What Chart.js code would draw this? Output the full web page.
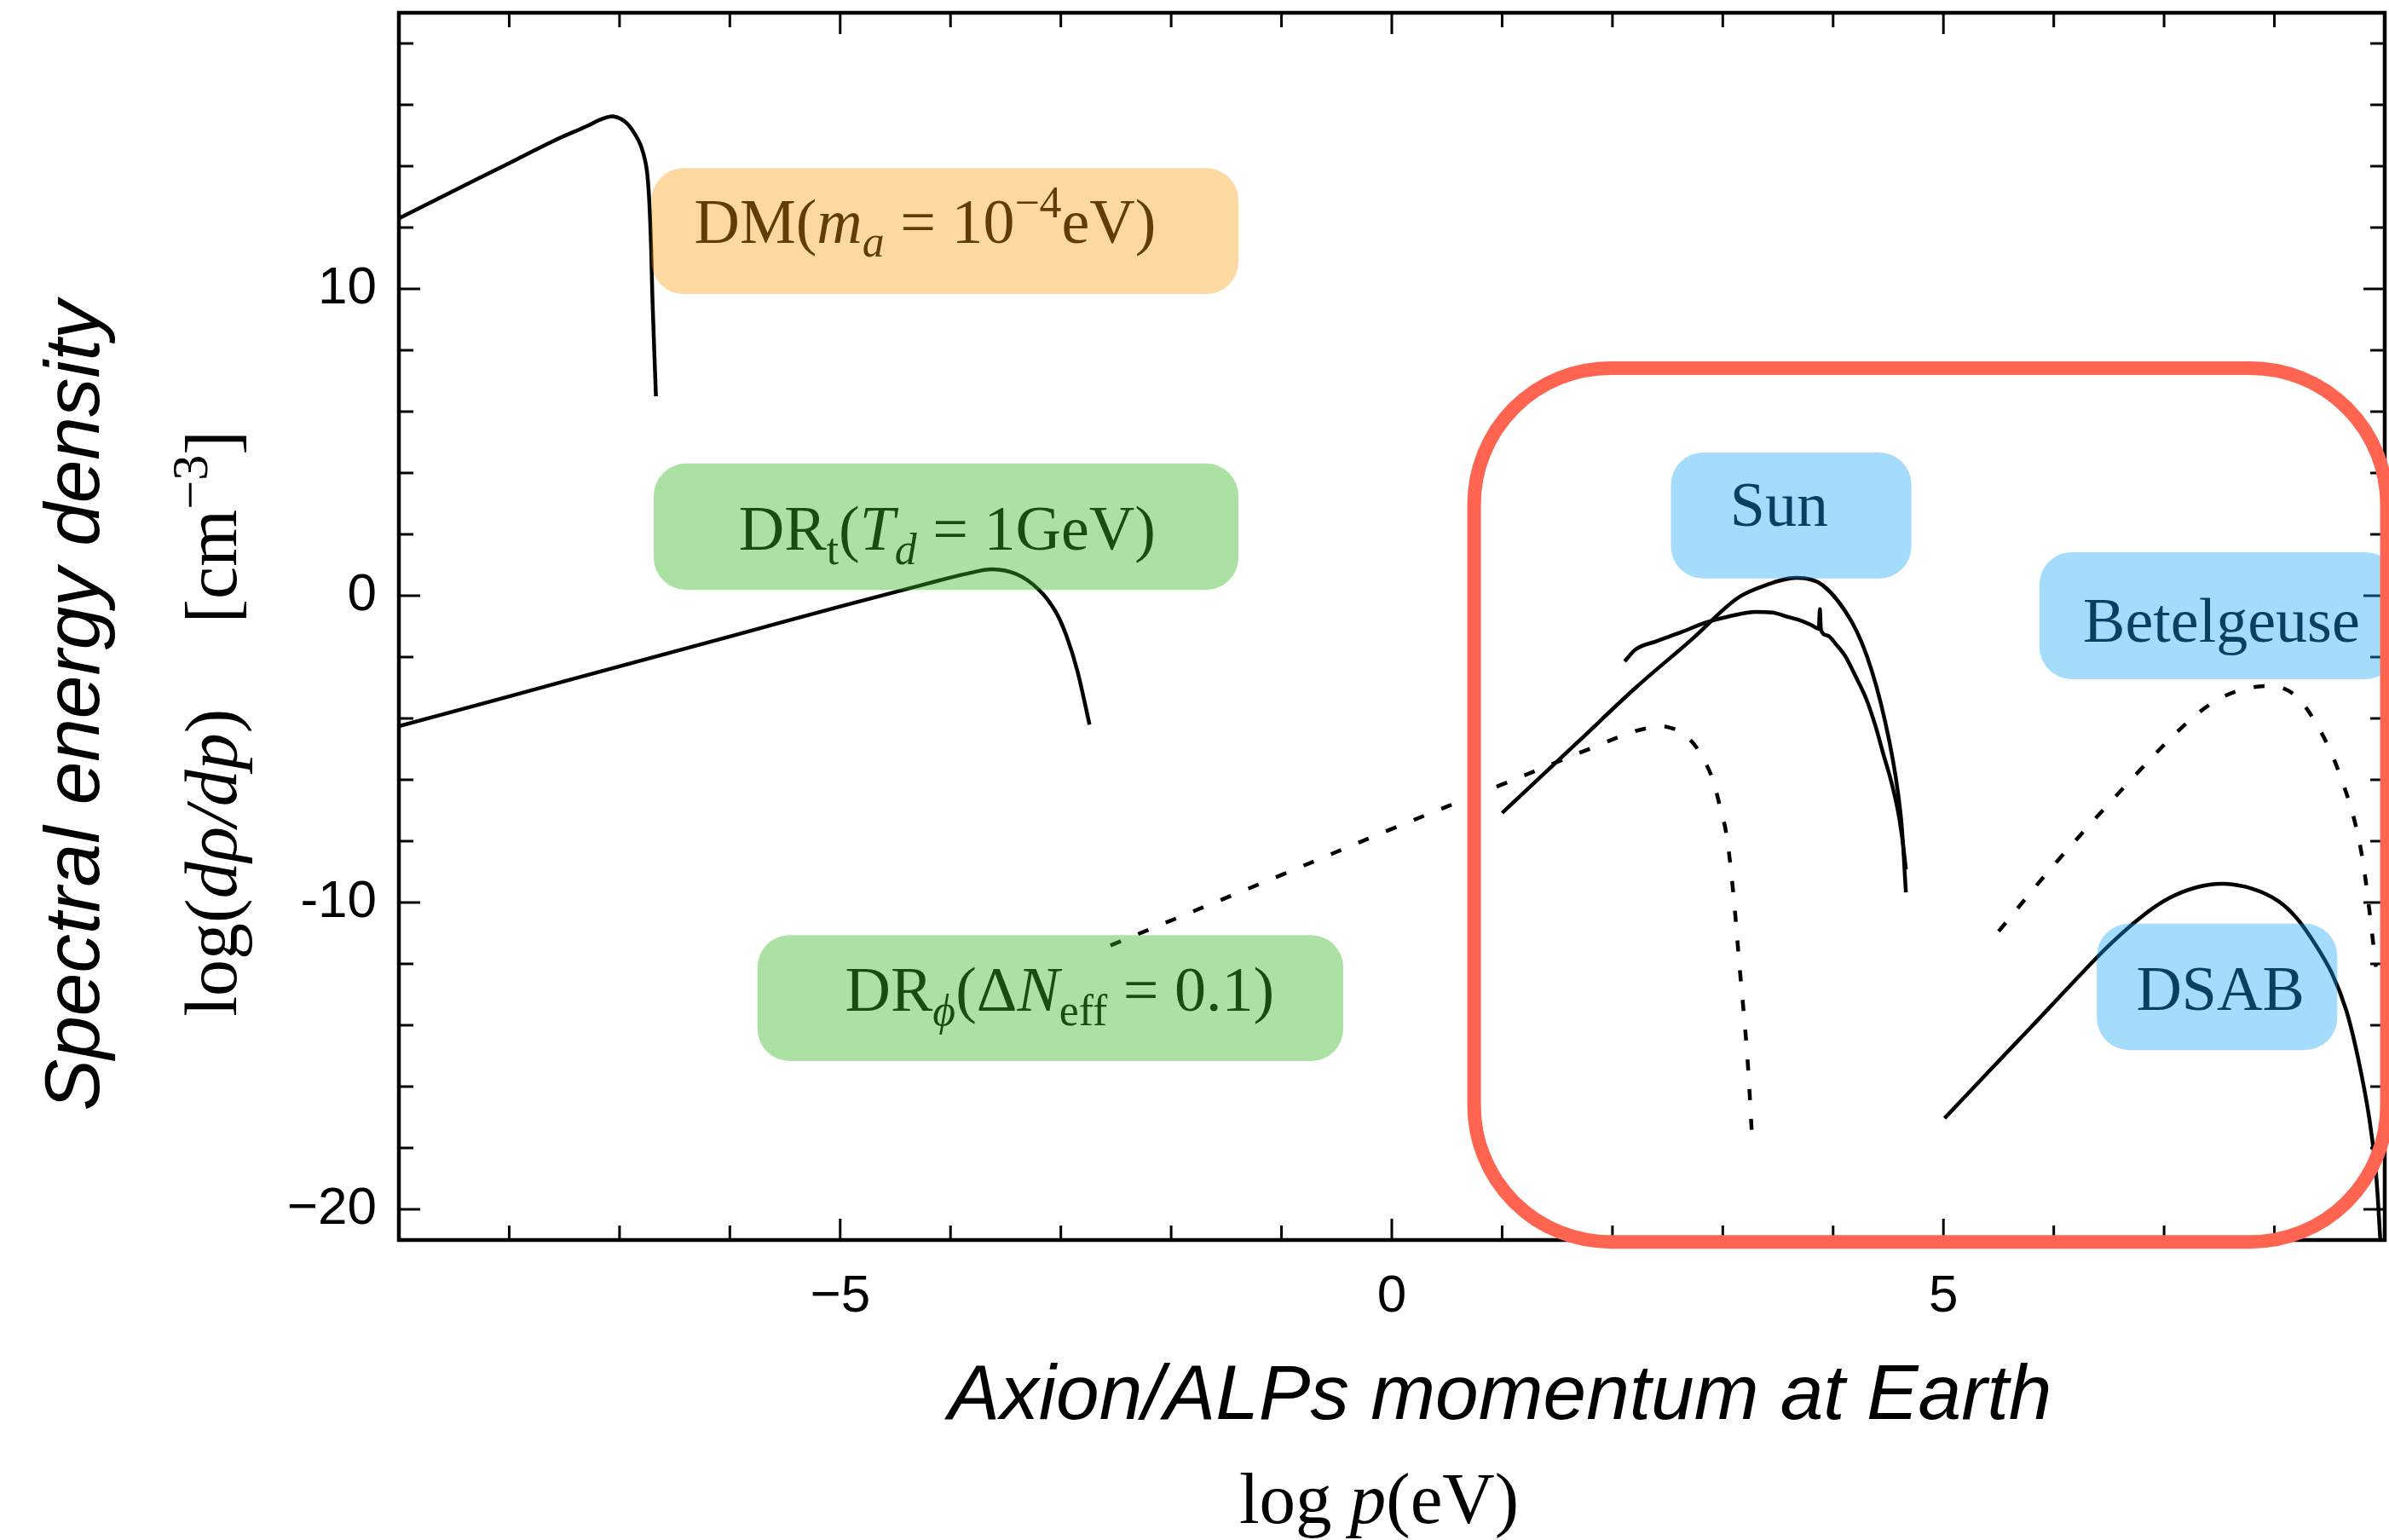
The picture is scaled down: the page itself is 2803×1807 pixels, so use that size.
<!DOCTYPE html>
<html>
<head>
<meta charset="utf-8">
<script src="https://cdn.jsdelivr.net/npm/chart.js@4.4.1/dist/chart.umd.min.js"></script>
<style>
  html, body { margin: 0; padding: 0; background: #fff; }
  canvas { display: block; }
</style>
</head>
<body>
<canvas id="spectrumChart" width="2803" height="1807"></canvas>
<script>
// x = log p (eV), y = log(d rho / dp) [cm^-3]

// Dark matter, m_a = 1e-4 eV
const dmX = [-9, -8.5, -8, -7.6, -7.3, -7.15, -7.05, -6.95, -6.87, -6.8, -6.75, -6.72, -6.7, -6.67];
const dmY = [12.3, 13.2, 14.1, 14.82, 15.3, 15.55, 15.62, 15.45, 15.1, 14.6, 13.8, 12.0, 9.5, 6.5];

// Thermal dark radiation, T_d = 1 GeV
const drtX = [-9, -8, -7, -6, -5, -4.5, -4.1, -3.85, -3.62, -3.4, -3.2, -3.05, -2.95, -2.85, -2.74];
const drtY = [-4.25, -3.28, -2.3, -1.33, -0.35, 0.12, 0.5, 0.72, 0.86, 0.7, 0.2, -0.5, -1.3, -2.45, -4.2];

// Dark radiation from phi decay, dN_eff = 0.1 (dashed)
const drphiX = [-2.55, -1.0, 0.0, 1.0, 1.8, 2.2, 2.4, 2.5, 2.62, 2.73, 2.82, 2.9, 2.97, 3.03, 3.09, 3.15, 3.22, 3.27];
const drphiY = [-11.4, -9.1, -7.6, -6.15, -4.98, -4.42, -4.27, -4.28, -4.45, -4.8, -5.3, -5.9, -6.8, -7.72, -9.5, -12.0, -14.9, -17.95];

// Sun, smooth curve
const sunX = [1.0, 1.68, 2.21, 2.72, 3.12, 3.38, 3.67, 3.91, 4.17, 4.35, 4.51, 4.61, 4.66];
const sunY = [-7.08, -4.79, -3.0, -1.42, -0.11, 0.33, 0.58, 0.33, -0.86, -2.44, -4.75, -7.06, -9.67];

// Sun, second (noisy) curve
const sun2X = [2.11, 2.21, 2.4, 2.6, 2.86, 3.05, 3.3, 3.45, 3.57, 3.7, 3.8, 3.87, 3.88, 3.89, 3.95, 4.03, 4.11, 4.2, 4.3, 4.38, 4.46, 4.53, 4.59, 4.63, 4.66];
const sun2Y = [-2.14, -1.75, -1.48, -1.22, -0.86, -0.68, -0.53, -0.55, -0.67, -0.8, -0.95, -1.08, -0.44, -1.12, -1.3, -1.6, -1.97, -2.6, -3.36, -4.2, -5.22, -6.1, -7.06, -8.0, -8.92];

// Betelgeuse (dashed)
const betelX = [5.5, 6.02, 6.78, 7.19, 7.47, 7.72, 7.95, 8.1, 8.22, 8.36, 8.5, 8.61, 8.71, 8.79, 8.85, 8.92];
const betelY = [-10.94, -8.7, -5.69, -4.2, -3.42, -3.05, -2.94, -3.05, -3.36, -4.05, -5.0, -6.0, -7.11, -8.4, -9.94, -12.1];

// Diffuse supernova axion background
const dsabX = [5.01, 5.4, 5.81, 6.15, 6.5, 6.8, 7.05, 7.3, 7.54, 7.8, 8.03, 8.2, 8.37, 8.52, 8.65, 8.76, 8.86, 8.92, 8.96];
const dsabY = [-17.03, -15.55, -14.0, -12.7, -11.4, -10.45, -9.85, -9.5, -9.39, -9.55, -9.94, -10.5, -11.36, -12.3, -13.5, -15.1, -17.03, -18.8, -21];

// ticks
const xTickValues = [-8, -7, -6, -5, -4, -3, -2, -1, 0, 1, 2, 3, 4, 5, 6, 7, 8];
const xMajor = [-5, 0, 5];
const xTickLabels = ["\u22125", "0", "5"];
const yTickValues = [-20, -18, -16, -14, -12, -10, -8, -6, -4, -2, 0, 2, 4, 6, 8, 10, 12, 14, 16, 18];
const yMajor = [-20, -10, 0, 10];
const yTickLabels = ["\u221220", "-10", "0", "10"];

const SERIF = "'Liberation Serif', 'DejaVu Serif', serif";
const SANS = "'Liberation Sans', Arial, sans-serif";

// label boxes, in data coordinates; parts: [text, italic, sub/sup]
const labelBoxes = [
  { x0: -6.71, x1: -1.39, y0: 13.94, y1: 9.83, tx: -4.23, ty: 12.19, fill: "rgba(250,155,12,0.39)",
    parts: [["DM(", 0], ["m", 1], ["a", 1, "sub"], [" = 10", 0], ["\u22124", 0, "sup"], ["eV)", 0]] },
  { x0: -6.69, x1: -1.39, y0: 4.31, y1: 0.19, tx: -4.03, ty: 2.17, fill: "rgba(55,183,33,0.42)",
    parts: [["DR", 0], ["t", 0, "sub"], ["(", 0], ["T", 1], ["d", 1, "sub"], [" = 1GeV)", 0]] },
  { x0: -5.75, x1: -0.44, y0: -11.06, y1: -15.17, tx: -3.01, ty: -12.86, fill: "rgba(55,183,33,0.42)",
    parts: [["DR", 0], ["\u03D5", 1, "sub"], ["(\u0394", 0], ["N", 1], ["eff", 0, "sub"], [" = 0.1)", 0]] },
  { x0: 2.53, x1: 4.71, y0: 4.67, y1: 0.56, tx: 3.51, ty: 2.97, fill: "rgba(22,163,245,0.39)",
    parts: [["Sun", 0]] },
  { x0: 5.87, x1: 9.12, y0: 1.42, y1: -2.72, tx: 7.52, ty: -0.83, fill: "rgba(22,163,245,0.39)",
    parts: [["Betelgeuse", 0]] },
  { x0: 6.39, x1: 8.57, y0: -10.69, y1: -14.81, tx: 7.51, ty: -12.83, fill: "rgba(22,163,245,0.39)",
    parts: [["DSAB", 0]] },
];

const redBox = { x0: 0.746, x1: 9.02, y0: 7.42, y1: -21.06 };

function toPoints(xs, ys) {
  return xs.map((x, i) => ({ x: x, y: ys[i] }));
}

function drawRich(ctx, parts, x, y, size, align) {
  const fontOf = p => (p[1] ? "italic " : "") + (p[2] ? size * 0.7 : size) + "px " + SERIF;
  let total = 0;
  const widths = parts.map(p => {
    ctx.font = fontOf(p);
    const w = ctx.measureText(p[0]).width + (p[3] || 0);
    total += w;
    return w;
  });
  let cx = align === "center" ? x - total / 2 : x;
  ctx.textAlign = "left";
  ctx.textBaseline = "alphabetic";
  parts.forEach((p, i) => {
    ctx.font = fontOf(p);
    const dy = p[2] === "sub" ? size * 0.22 : p[2] === "sup" ? -size * 0.4 : 0;
    ctx.fillText(p[0], cx, y + dy);
    cx += widths[i];
  });
}

function roundedPath(ctx, x, y, w, h, r) {
  ctx.beginPath();
  ctx.moveTo(x + r, y);
  ctx.lineTo(x + w - r, y);
  ctx.arcTo(x + w, y, x + w, y + r, r);
  ctx.lineTo(x + w, y + h - r);
  ctx.arcTo(x + w, y + h, x + w - r, y + h, r);
  ctx.lineTo(x + r, y + h);
  ctx.arcTo(x, y + h, x, y + h - r, r);
  ctx.lineTo(x, y + r);
  ctx.arcTo(x, y, x + r, y, r);
  ctx.closePath();
}

const decorPlugin = {
  id: "decor",
  afterDraw(chart) {
    const ctx = chart.ctx;
    const a = chart.chartArea;
    const xs = chart.scales.x;
    const ys = chart.scales.y;
    ctx.save();

    // inward ticks on all four sides
    ctx.strokeStyle = "#000";
    ctx.lineWidth = 3;
    ctx.beginPath();
    xTickValues.forEach(v => {
      const px = xs.getPixelForValue(v);
      const len = xMajor.includes(v) ? 25 : 17;
      ctx.moveTo(px, a.bottom); ctx.lineTo(px, a.bottom - len);
      ctx.moveTo(px, a.top); ctx.lineTo(px, a.top + len);
    });
    yTickValues.forEach(v => {
      const py = ys.getPixelForValue(v);
      const len = yMajor.includes(v) ? 25 : 17;
      ctx.moveTo(a.left, py); ctx.lineTo(a.left + len, py);
      ctx.moveTo(a.right, py); ctx.lineTo(a.right - len, py);
    });
    ctx.stroke();

    // frame
    ctx.lineWidth = 4.5;
    ctx.strokeRect(a.left, a.top, a.right - a.left, a.bottom - a.top);

    // label texts, then translucent boxes over them
    ctx.fillStyle = "#000";
    labelBoxes.forEach(b => {
      const size = 74;
      const base = ys.getPixelForValue(b.ty) + size * 0.33;
      drawRich(ctx, b.parts, xs.getPixelForValue(b.tx), base, size, "center");
    });
    labelBoxes.forEach(b => {
      const x0 = xs.getPixelForValue(b.x0), x1 = xs.getPixelForValue(b.x1);
      const y0 = ys.getPixelForValue(b.y0), y1 = ys.getPixelForValue(b.y1);
      ctx.fillStyle = b.fill;
      roundedPath(ctx, x0, y0, x1 - x0, y1 - y0, 38);
      ctx.fill();
    });

    // axis titles
    ctx.fillStyle = "#000";
    ctx.textAlign = "center";
    ctx.textBaseline = "alphabetic";
    ctx.font = "italic 91px " + SANS;
    ctx.fillText("Axion/ALPs momentum at Earth", 1760, 1665);
    drawRich(ctx, [["log ", 0], ["p", 1], ["(eV)", 0]], 1618, 1787, 85, "center");

    ctx.save();
    ctx.translate(116, 828);
    ctx.rotate(-Math.PI / 2);
    ctx.font = "italic 91px " + SANS;
    ctx.textAlign = "center";
    ctx.fillText("Spectral energy density", 0, 0);
    ctx.restore();

    ctx.save();
    ctx.translate(277, 849);
    ctx.rotate(-Math.PI / 2);
    drawRich(ctx, [["log(", 0], ["d\u03C1/dp", 1], [")", 0, "", 100], ["[cm", 0], ["\u22123", 0, "sup"], ["]", 0]], 0, 0, 86, "center");
    ctx.restore();

    // highlighted region
    const rx0 = xs.getPixelForValue(redBox.x0), rx1 = xs.getPixelForValue(redBox.x1);
    const ry0 = ys.getPixelForValue(redBox.y0), ry1 = ys.getPixelForValue(redBox.y1);
    ctx.strokeStyle = "#ff6450";
    ctx.lineWidth = 16;
    roundedPath(ctx, rx0, ry0, rx1 - rx0, ry1 - ry0, 160);
    ctx.stroke();

    ctx.restore();
  }
};

function curve(xs, ys, dashed, mono) {
  return {
    data: toPoints(xs, ys),
    showLine: true,
    pointRadius: 0,
    borderColor: "#000",
    borderWidth: 4.5,
    borderDash: dashed ? [13, 22] : [],
    cubicInterpolationMode: mono ? "monotone" : "default",
    tension: 0.35,
    fill: false,
  };
}

const ctx = document.getElementById("spectrumChart").getContext("2d");
new Chart(ctx, {
  type: "scatter",
  data: {
    datasets: [
      curve(dmX, dmY, false, false),
      curve(drtX, drtY, false, false),
      curve(drphiX, drphiY, true, false),
      curve(sunX, sunY, false, false),
      curve(sun2X, sun2Y, false, true),
      curve(betelX, betelY, true, false),
      curve(dsabX, dsabY, false, false),
    ],
  },
  options: {
    responsive: false,
    animation: false,
    devicePixelRatio: 1,
    layout: { padding: { top: 15, right: 5, left: 0, bottom: 0 } },
    plugins: {
      legend: { display: false },
      tooltip: { enabled: false },
    },
    scales: {
      x: {
        type: "linear",
        min: -9,
        max: 9,
        afterBuildTicks: s => { s.ticks = xTickValues.map(v => ({ value: v })); },
        afterFit: s => { s.height = 352; s.paddingLeft = 0; s.paddingRight = 0; },
        grid: { display: false, drawTicks: false },
        border: { display: false },
        ticks: {
          autoSkip: false,
          maxRotation: 0,
          padding: 30,
          color: "#000",
          font: { family: SANS, size: 62 },
          callback: v => { const i = xMajor.indexOf(v); return i >= 0 ? xTickLabels[i] : ""; },
        },
      },
      y: {
        type: "linear",
        min: -21,
        max: 19,
        afterBuildTicks: s => { s.ticks = yTickValues.map(v => ({ value: v })); },
        afterFit: s => { s.width = 468; s.paddingTop = 0; s.paddingBottom = 0; },
        grid: { display: false, drawTicks: false },
        border: { display: false },
        ticks: {
          autoSkip: false,
          padding: 26,
          color: "#000",
          font: { family: SANS, size: 62 },
          callback: v => { const i = yMajor.indexOf(v); return i >= 0 ? yTickLabels[i] : ""; },
        },
      },
    },
  },
  plugins: [decorPlugin],
});
</script>
</body>
</html>
